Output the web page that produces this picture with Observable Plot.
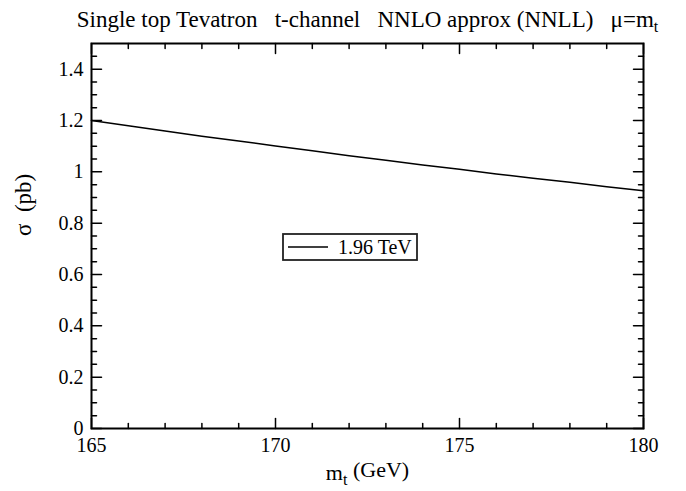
<!DOCTYPE html>
<html><head><meta charset="utf-8">
<script src="https://cdn.jsdelivr.net/npm/d3@7"></script>
<script src="https://cdn.jsdelivr.net/npm/@observablehq/plot@0.6"></script>
<style>
body{margin:0;background:#fff}
#chart svg{font-family:"Liberation Serif","Times New Roman",serif}
</style>
</head><body><div id="chart"></div>
<script>
// ---- data ----
const masses = [165,166,167,168,169,170,171,172,173,174,175,176,177,178,179,180];
const sigma  = [1.200,1.180,1.159,1.139,1.120,1.101,1.082,1.063,1.045,1.027,1.010,0.992,0.975,0.959,0.942,0.926];
const seriesLabel = "1.96 TeV";
const xMajorTicks = [165,170,175,180];
const xTickLabels = ["165","170","175","180"];
const xMinorTicks = [166,167,168,169,171,172,173,174,176,177,178,179];
const yMajorTicks = [0,0.2,0.4,0.6,0.8,1.0,1.2,1.4];
const yTickLabels = ["0","0.2","0.4","0.6","0.8","1","1.2","1.4"];
const yMinorTicks = [0.05,0.1,0.15,0.25,0.3,0.35,0.45,0.5,0.55,0.65,0.7,0.75,0.85,0.9,0.95,1.05,1.1,1.15,1.25,1.3,1.35,1.45];
const titleMain = "Single top Tevatron   t-channel   NNLO approx (NNLL)   \u03bc=m";
const titleSub = "t";
const yLabel = "\u03c3  (pb)";

// ---- ticks as vectors ----
const tickShape = {draw(ctx, l){ ctx.moveTo(0,0); ctx.lineTo(0,-l); }};
const tk = {anchor:"start", shape: tickShape, stroke:"black", strokeWidth:1.5};
const ticksX = (vals, len) => [
  Plot.vector(vals, {x: d=>d, frameAnchor:"bottom", length: len, rotate: 0, ...tk}),
  Plot.vector(vals, {x: d=>d, frameAnchor:"top", length: len, rotate: 180, ...tk})
];
const ticksY = (vals, len) => [
  Plot.vector(vals, {y: d=>d, frameAnchor:"left", length: len, rotate: 90, ...tk}),
  Plot.vector(vals, {y: d=>d, frameAnchor:"right", length: len, rotate: -90, ...tk})
];

const plot = Plot.plot({
  width: 686, height: 491,
  marginLeft: 91, marginRight: 43, marginTop: 43, marginBottom: 63,
  style: {background:"white", fontFamily:'"Liberation Serif", serif', color:"black"},
  x: {domain:[165,180], axis:null},
  y: {domain:[0,1.5], axis:null},
  marks: [
    Plot.line(masses, {x: masses, y: sigma, stroke:"black", strokeWidth:1.5}),
    ...ticksX(xMajorTicks, 10), ...ticksX(xMinorTicks, 5),
    ...ticksY(yMajorTicks, 10), ...ticksY(yMinorTicks, 5),
    Plot.frame({stroke:"black", strokeWidth:2}),
    Plot.text(xMajorTicks, {x: d=>d, frameAnchor:"bottom", lineAnchor:"bottom", dy:23, text:(d,i)=>xTickLabels[i], fontSize:20, fill:"black"}),
    Plot.text(yMajorTicks, {y: d=>d, frameAnchor:"left", textAnchor:"end", dx:-8, text:(d,i)=>yTickLabels[i], fontSize:20, fill:"black"}),
    Plot.text([titleMain], {frameAnchor:"top", lineAnchor:"bottom", dy:-17, text:d=>d, fontSize:23, fill:"black", className:"ttl"}),
    Plot.text([yLabel], {frameAnchor:"left", rotate:-90, lineAnchor:"bottom", dx:-61, text:d=>d, fontSize:23, fill:"black"}),
    Plot.text(["m"], {frameAnchor:"bottom", lineAnchor:"bottom", dy:51, text:d=>d, fontSize:22, fill:"black", className:"xlab"})
  ]
});
document.getElementById("chart").appendChild(plot);

const svg = d3.select(plot);
// title with subscript
const tt = svg.select("g.ttl text");
tt.style("white-space","pre").text(titleMain);
tt.append("tspan").attr("dy","0.35em").attr("font-size","16").text(titleSub);
// x label with subscript
const xl = svg.select("g.xlab text");
xl.style("white-space","pre").text("m");
xl.append("tspan").attr("dy","0.35em").attr("font-size","16").text("t");
xl.append("tspan").attr("dy","-0.35em").text(" (GeV)");

// legend box
const lg = svg.append("g");
lg.append("rect").attr("x",283).attr("y",234).attr("width",134).attr("height",26)
  .attr("fill","white").attr("stroke","#222").attr("stroke-width",1.8);
lg.append("line").attr("x1",288).attr("x2",328).attr("y1",247).attr("y2",247)
  .attr("stroke","black").attr("stroke-width",1.5);
lg.append("text").attr("x",338).attr("y",254).attr("font-size",20).attr("text-anchor","start")
  .attr("fill","black").text(seriesLabel);
</script>
</body></html>
